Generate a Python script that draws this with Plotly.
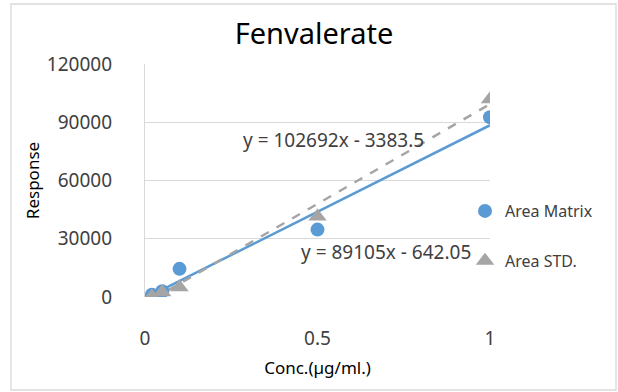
import plotly.graph_objects as go

# Data
conc = [0.02, 0.05, 0.1, 0.5, 1.0]
area_matrix = [1200, 3000, 14500, 34700, 92600]
area_std = [300, 2500, 5000, 41400, 101900]
matrix_fit = (89105, -642.05)
std_fit = (102692, -3383.5)
eq_matrix = "y = 89105x - 642.05"
eq_std = "y = 102692x - 3383.5"
x_ticks = [0, 0.5, 1]
x_tick_labels = ["0", "0.5", "1"]
y_ticks = [0, 30000, 60000, 90000, 120000]
y_tick_labels = ["0", "30000", "60000", "90000", "120000"]

BLUE = "#5B9BD5"
GRAY = "#A5A5A5"
FONT = "Noto Sans"

W, H = 618, 392
L, R, T, B = 145, 128, 64, 95
pw, ph = W - L - R, H - T - B

def px(x):
    return (x - L) / pw

def py(y):
    return (H - B - y) / ph

fig = go.Figure()

xl = [min(conc), max(conc)]
fig.add_trace(go.Scatter(x=xl, y=[matrix_fit[0] * v + matrix_fit[1] for v in xl], mode="lines",
                         line=dict(color=BLUE, width=2.5), showlegend=False, hoverinfo="skip"))
fig.add_trace(go.Scatter(x=xl, y=[std_fit[0] * v + std_fit[1] for v in xl], mode="lines",
                         line=dict(color=GRAY, width=2.5, dash="dash"), showlegend=False, hoverinfo="skip"))

fig.add_trace(go.Scatter(x=conc, y=area_matrix, mode="markers", name="Area Matrix",
                         marker=dict(symbol="circle", size=14, color=BLUE), legendgroup="a"))
fig.add_trace(go.Scatter(x=conc, y=area_std, mode="markers", name="Area STD.",
                         marker=dict(symbol="triangle-up", size=16, color=GRAY), legendgroup="b"))

fig.update_layout(
    width=W, height=H,
    margin=dict(l=L, r=R, t=T, b=B),
    paper_bgcolor="white", plot_bgcolor="white",
    font=dict(family=FONT, size=16, color="#404040"),
    title=dict(text="Fenvalerate", x=314 / W, xanchor="center", y=1 - 34 / H, yanchor="middle",
               font=dict(family=FONT, size=29, color="#000000")),
    xaxis=dict(range=[0, 1], tickvals=x_ticks, ticktext=x_tick_labels, showgrid=False,
               zeroline=False, showline=False, ticks="", ticklabelstandoff=28,
               tickfont=dict(size=19, color="#404040"),
               title=dict(text="Conc.(µg/ml.)", font=dict(size=17, color="#000000"), standoff=12)),
    yaxis=dict(range=[0, 120000], tickvals=y_ticks, ticktext=y_tick_labels, showgrid=True,
               gridcolor="#D9D9D9", gridwidth=1.3,
               zeroline=False, showline=True, linecolor="#D9D9D9", linewidth=1.3, ticks="",
               ticklabelstandoff=28, tickfont=dict(size=19, color="#404040"),
               title=dict(text="Response", font=dict(size=17, color="#000000"), standoff=2)),
    legend=dict(x=px(465), y=py(194), xanchor="left", yanchor="top", tracegroupgap=26,
                font=dict(size=16, color="#404040"), bgcolor="rgba(0,0,0,0)", itemwidth=30),
    showlegend=True,
)

fig.add_annotation(x=px(333), y=py(140), xref="paper", yref="paper", xanchor="center", yanchor="middle",
                   text=eq_std, showarrow=False, font=dict(size=19, color="#404040"))
fig.add_annotation(x=px(386), y=py(252), xref="paper", yref="paper", xanchor="center", yanchor="middle",
                   text=eq_matrix, showarrow=False, font=dict(size=19, color="#404040"))

fig.add_shape(type="rect", xref="paper", yref="paper", x0=px(11), x1=px(616), y0=py(390), y1=py(4),
              line=dict(color="#D9D9D9", width=1.3), layer="below")

fig.write_html("out.html")
